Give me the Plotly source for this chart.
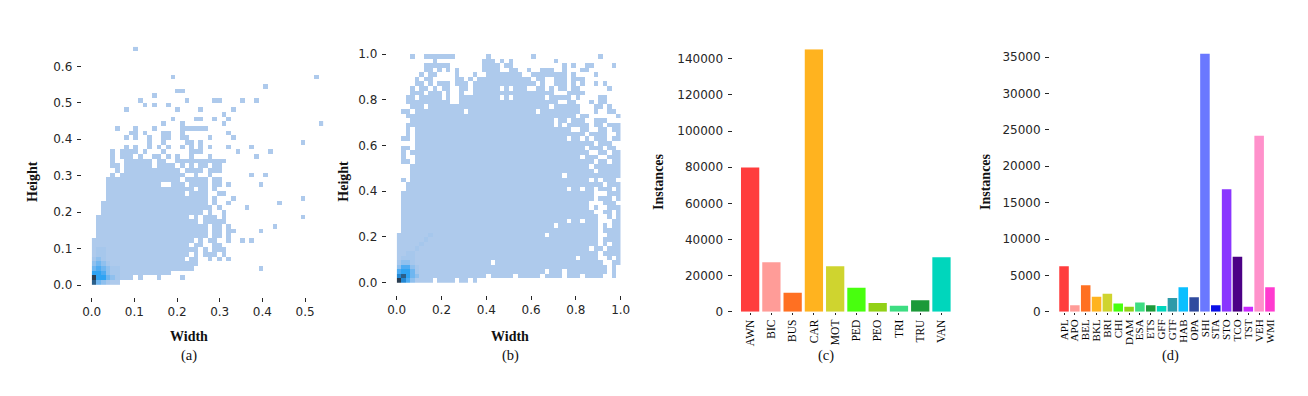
import plotly.graph_objects as go

W, H = 1308, 396

# ---------- panel (c) ----------
CLASSES_C = ["AWN","BIC","BUS","CAR","MOT","PED","PEO","TRI","TRU","VAN"]
VALUES_C = [79900,27400,10500,145300,25100,13300,4800,3300,6300,30100]
COLORS_C = ["#FF3D3D","#FF9C98","#FF7022","#FFB31F","#CFD42F","#48FF0E","#92D117","#3DDD82","#1C9A39","#00D6BC"]
TICKS_C = [0,20000,40000,60000,80000,100000,120000,140000]

# ---------- panel (d) ----------
CLASSES_D = ["APL","APO","BEL","BKL","BRI","CHI","DAM","ESA","ETS","GFF","GTF","HAB","OPA","SHI","STA","STO","TCO","TST","VEH","WMI"]
VALUES_D = [6250,900,3650,2050,2470,1130,680,1280,900,770,1900,3380,2000,35500,870,16850,7550,680,24200,3380]
COLORS_D = ["#FF3D3D","#FF9C98","#FF7022","#FFB31F","#CFD42F","#48FF0E","#92D117","#3DDD82","#1C9A39","#00D6BC",
            "#2E9AA8","#0ABFFF","#2F4B9F","#6A78FF","#0A10E8","#8A35FF","#4B0085","#C928FF","#FF91CB","#FF3BCF"]
TICKS_D = [0,5000,10000,15000,20000,25000,30000,35000]

# ---------- panel (a): occupied histogram bins per row, top row first ----------
ROWS_A = ["9","","","","","","17,48","","37","18-19","13","10,20,26-27,32,35","11,13,16","7,18,23,30","28",
 "17,22-23,26,29","15,19,28,49","5,9,13,19-24","8-9,11,15-16,19,29","7,9,12,15-16,19-20,25,30","12,15,20-21,23,45",
 "7,9,12,14,16,19,21,23,25,29,34","4,6-9,11,15,21-23,31,38","4,6-8,10,13-14,16,18,21,25,35","4,7-12,14-15,18-20,21-28",
 "4-5,7-12,14-17,19,21,23-24,26-27","5,7-18,20-23,25-27","4,6-18,19,22,25,34,37","3-18,20-24,26-27",
 "3-14,17-19,21-24,26-27,29,36","3-21,23-24,26","3-19,21-24,27-28","3-24,26,30,45","2-24,26,29,40","2-25,27,33",
 "2-23,25,28","1-20,22,24-26,28,45","1-22,24-28","1-24,26-27,29,39","1-24,26-27,29-30,36","1-24,26-27,29",
 "0-21,23,25-26,29,32,34","0-20,22-23,26-27","0-22,24,26-28","0-20,22,24-26,28","0-19,21-22,25,27,29",
 "0-22","0-21,36","0-16","0-8,10,14,19","0-5"]
# darker bins near the origin: (row from bottom, column, level)
DENSE_A = [(0,0,8),(0,1,4),(0,2,3),(0,3,2),(1,0,9),(1,1,6),(1,2,6),(1,3,4),(1,4,3),(1,5,2),(2,0,6),(2,1,6),(2,2,5),(2,3,3),(2,4,2),
           (3,0,4),(3,1,5),(3,2,4),(3,3,3),(3,4,2),(4,0,3),(4,1,4),(4,2,3),(4,3,2),(5,0,2),(5,1,3),(5,2,2),(6,1,2),(6,2,2),(7,1,2),(7,2,2),(3,5,2),(2,5,2)]

# ---------- panel (b): occupied histogram bins per row, top row first ----------
ROWS_B = ["3,6-12,20,30,45","8,19-21,23,25,35","6-11,19-22,24-25,37,39,42-43,48",
 "6-7,9,11,13,19-22,25-26,29,32-34,37,41-42","5,7-8,13,17,20-27,30-37,39,44",
 "4,6-7,13-14,16,18-29,31-32,35-37,39-41","4-5,7,9-11,13-15,17-30,32,35-37,39,41,44,46",
 "3,5-6,8,10-11,14-15,17-22,24,26-28,31-32,34,36-37,39-40,47","3-5,7-9,11,14,17-34,38-41",
 "2-3,5-9,11,14-22,24,26-32,34-38,40,45-46","2-4,5-11,14-35,38-39,43,45-46","3-5,7-33,35-40,44-45,47",
 "1-2,4-14,16-30,32-40,44,47-48","2-39,41-42,49","3-34,36-37,39-41,44-46","2-34,36,38-42,44-45,47-49",
 "2,4-38,41-42,45-46,48-49","2,4-41,43-46,49","1-2,4-37,39-40,42,44-46,48-49","4-43,45-47",
 "1-2,4-41,43-45,47-48","1,3-42,45-46,48-49","1,4-40,42-44,47-49","1-2,4-43,45-46,48-49",
 "3-42,44-49","3-43,45-49","3-36,38-49","1,3-42,44,46-48","2-45,47-49","2-37,39-40,42-43,45-47,49",
 "1-43,47-49","1-43,45-47,49","1-42,46-48","1-42,44,47-49","1-43,46-47,49","1-44,47,49",
 "1-37,39-40,42-44,48-49","1-34,36-44,46,48-49","1-44,46-49","0-32,34-44,47-49","0-44,46-49","0-44,46,48-49",
 "0-42,44-45,47-49","0-44,46-49","0-39,41-44,47,49","0-20,22-45,48-49","0-46,48","0-32,34-36,38-46,48",
 "0-19,21-25,27-31,33-36,38-40,42-45,48","0-7,9-12,14-15,17"]
DENSE_B = [(0,0,9),(0,1,7),(0,2,5),(0,3,3),(1,0,7),(1,1,8),(1,2,6),(1,3,4),(1,4,3),(2,0,5),(2,1,6),(2,2,6),(2,3,4),(2,4,2),
           (3,0,3),(3,1,5),(3,2,5),(3,3,3),(3,4,2),(4,0,2),(4,1,3),(4,2,3),(4,3,2),(5,1,2),(5,2,2),(5,3,2),(6,2,2),(6,3,2),(7,4,2),(8,5,2),(9,6,2),(10,7,2)]

LEVELS = ["#AECAEC","#A6C7EC","#8FC0EE","#6FB6F0","#4DABF2","#2EA3F3","#2388D4","#2B5F8A","#2A3E52"]
BLUES = [[i/8, c] for i, c in enumerate(LEVELS)]
TICKFONT = dict(family="DejaVu Sans", size=12, color="#262626")
SERIF = "Liberation Serif"

def grid(rows, dense):
    n = len(rows)
    z = [[None]*50 for _ in range(n)]
    for i, spec in enumerate(rows):
        r = n-1-i
        for part in filter(None, spec.split(",")):
            a, _, b = part.partition("-")
            for c in range(int(a), int(b or a)+1):
                if c < 50:
                    z[r][c] = 1
    for r, c, v in dense:
        z[r][c] = v
    return z

def fx(p): return p/W
def fy(p): return 1-p/H

fig = go.Figure()

def heat(idx, rows, dense, xmax, ymax, xpx, ypx, xtick, ytick, axpos, aypos):
    z = grid(rows, dense)
    dx, dy = xmax/50, ymax/len(rows)
    fig.add_trace(go.Heatmap(z=z, x0=dx/2, dx=dx, y0=dy/2, dy=dy, colorscale=BLUES, zmin=1, zmax=9,
                             showscale=False, hoverinfo="skip", xaxis=f"x{idx}", yaxis=f"y{idx}"))
    fig.update_layout(**{
        f"xaxis{idx}": dict(domain=[fx(xpx[0]), fx(xpx[1])], range=[0, xmax], anchor="free", position=fy(axpos),
                            tickvals=xtick, ticktext=[f"{t:.1f}" for t in xtick], ticks="outside", ticklen=4, tickcolor="#262626",
                            tickfont=TICKFONT, showgrid=False, zeroline=False, showline=False, automargin=False),
        f"yaxis{idx}": dict(domain=[fy(ypx[0]), fy(ypx[1])], range=[0, ymax], anchor="free", position=fx(aypos),
                            tickvals=ytick, ticktext=[f"{t:.1f}" for t in ytick], ticks="outside", ticklen=4, tickcolor="#262626",
                            tickfont=TICKFONT, showgrid=False, zeroline=False, showline=False, automargin=False, ticklabelstandoff=2),
    })

def bars(idx, cats, vals, cols, xpx, ypx, ymax, ytick, aypos, gap, tsize):
    fig.add_trace(go.Bar(x=cats, y=vals, marker=dict(color=cols, line=dict(width=0)), hoverinfo="skip",
                         xaxis=f"x{idx}", yaxis=f"y{idx}", showlegend=False, width=gap))
    fig.update_layout(**{
        f"xaxis{idx}": dict(domain=[fx(xpx[0]), fx(xpx[1])], range=[-0.5, len(cats)-0.5], anchor="free", position=fy(312),
                            tickangle=-90, ticks="outside", ticklen=2, tickcolor="#262626", showgrid=False, zeroline=False, showline=False,
                            tickfont=dict(family=SERIF, size=tsize, color="#000000"), type="category", dtick=1, automargin=False),
        f"yaxis{idx}": dict(domain=[fy(ypx[0]), fy(ypx[1])], range=[0, ymax], anchor="free", position=fx(aypos),
                            tickvals=ytick, ticktext=[str(t) for t in ytick], ticks="outside", ticklen=4, tickcolor="#262626",
                            tickfont=TICKFONT, showgrid=False, zeroline=False, showline=False, automargin=False, ticklabelstandoff=2),
    })

heat(1, ROWS_A, DENSE_A, 0.5425, 0.6539, (91.7, 323.2), (285, 46.8),
     [0,0.1,0.2,0.3,0.4,0.5], [0,0.1,0.2,0.3,0.4,0.5,0.6], 296.5, 80.7)
heat(2, ROWS_B, DENSE_B, 1.0, 1.0, (396.7, 620.7), (282.7, 54),
     [0,0.2,0.4,0.6,0.8,1.0], [0,0.2,0.4,0.6,0.8,1.0], 295, 385.7)
bars(3, CLASSES_C, VALUES_C, COLORS_C, (739.5, 952.1), (311.7, 49.3), 145300, TICKS_C, 731.5, 0.86, 11.5)
bars(4, CLASSES_D, VALUES_D, COLORS_D, (1058.6, 1275.4), (311.7, 53.6), 35500, TICKS_D, 1049, 0.88, 11)

def label(text, x, y, size=14, bold=True, angle=0):
    fig.add_annotation(text=f"<b>{text}</b>" if bold else text, x=fx(x), y=fy(y), xref="paper", yref="paper",
                       showarrow=False, textangle=angle, xanchor="center", yanchor="middle",
                       font=dict(family=SERIF, size=size, color="#111111"))

label("Height", 33, 182, angle=-90)
label("Width", 189, 336.7)
label("(a)", 189, 355.7, 14.5, False)
label("Height", 344, 181.7, angle=-90)
label("Width", 510, 336.7)
label("(b)", 510, 355.7, 14.5, False)
label("Instances", 659, 182, angle=-90)
label("(c)", 825.7, 355.7, 14.5, False)
label("Instances", 986, 182, angle=-90)
label("(d)", 1170.7, 355.7, 14.5, False)

fig.update_layout(width=W, height=H, margin=dict(l=0, r=0, t=0, b=0, pad=0, autoexpand=False), paper_bgcolor="white", plot_bgcolor="white", showlegend=False)
fig.write_html("out.html", config=dict(displayModeBar=False), post_script="document.body.style.margin='0';")
